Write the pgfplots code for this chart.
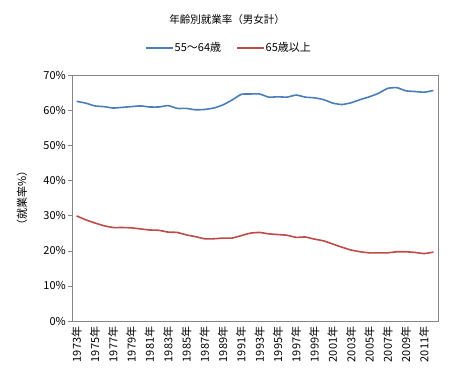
\documentclass[border=0pt]{standalone}
\usepackage{fontspec}
\setmainfont{Noto Sans CJK JP}
\usepackage{pgfplots}
\pgfplotsset{compat=1.18}
\definecolor{eblue}{HTML}{4A7EBB}
\definecolor{ered}{HTML}{BE4B48}
\definecolor{axgray}{HTML}{868686}
\pgfplotstableread{
i blue red
0 62.5 29.9
1 62.0 28.8
2 61.2 27.9
3 61.0 27.1
4 60.6 26.6
5 60.8 26.6
6 61.0 26.5
7 61.2 26.2
8 60.9 25.9
9 60.9 25.8
10 61.3 25.3
11 60.5 25.2
12 60.5 24.5
13 60.1 24.0
14 60.2 23.4
15 60.6 23.4
16 61.5 23.6
17 62.9 23.6
18 64.5 24.3
19 64.6 25.0
20 64.6 25.2
21 63.7 24.8
22 63.8 24.6
23 63.7 24.4
24 64.3 23.8
25 63.7 23.9
26 63.5 23.3
27 63.0 22.8
28 62.0 21.9
29 61.6 21.0
30 62.1 20.2
31 63.0 19.7
32 63.8 19.4
33 64.8 19.4
34 66.2 19.4
35 66.4 19.7
36 65.5 19.7
37 65.3 19.5
38 65.1 19.2
39 65.6 19.6
}\datatable
\begin{document}
\begin{tikzpicture}
\path[use as bounding box] (-72bp,-57bp) rectangle (382bp,321bp);
\begin{axis}[
  width=366bp, height=246bp, scale only axis,
  xmin=-0.5, xmax=39.5, ymin=0, ymax=70,
  axis line style={axgray},
  every tick/.style={axgray},
  tick align=outside,
  ytick pos=left, xtick pos=bottom,
  ytick={0,10,...,70},
  yticklabel={\pgfmathprintnumber{\tick}\%},
  major tick length=4bp, minor tick length=4bp,
  xtick={0,2,...,38},
  xticklabels={1973年,1975年,1977年,1979年,1981年,1983年,1985年,1987年,1989年,1991年,1993年,1995年,1997年,1999年,2001年,2003年,2005年,2007年,2009年,2011年},
  minor xtick={-0.5,0.5,...,39.5},
  xtick style={draw=none},
  minor x tick style={axgray},
  xticklabel style={rotate=90, anchor=east, inner sep=1.5bp, font=\fontsize{11bp}{12bp}\selectfont},
  yticklabel style={inner sep=2bp, font=\fontsize{11bp}{12bp}\selectfont},
  /pgf/number format/assume math mode=true,
  legend columns=2,
  legend style={at={(axis description cs:0.4276,1.11)}, anchor=center, draw=none, font=\fontsize{11bp}{12bp}\selectfont, /tikz/every even column/.append style={column sep=14bp}, /tikz/every odd column/.append style={}, nodes={inner sep=1bp}},
  legend image code/.code={\draw[#1, line width=1.6bp] (0bp,0bp) -- (27bp,0bp);},
]
\addplot[eblue, line width=1.6bp, smooth, tension=0.3] table[x=i, y=blue] {\datatable};
\addlegendentry{55〜64歳}
\addplot[ered, line width=1.6bp, smooth, tension=0.3] table[x=i, y=red] {\datatable};
\addlegendentry{65歳以上}
\end{axis}
\node[font=\fontsize{10.5bp}{12bp}\selectfont] at (155bp,301bp) {年齢別就業率（男女計）};
\node[rotate=90, font=\fontsize{11bp}{12bp}\selectfont] at (-50bp,123bp) {（就業率\%）};
\end{tikzpicture}
\end{document}
